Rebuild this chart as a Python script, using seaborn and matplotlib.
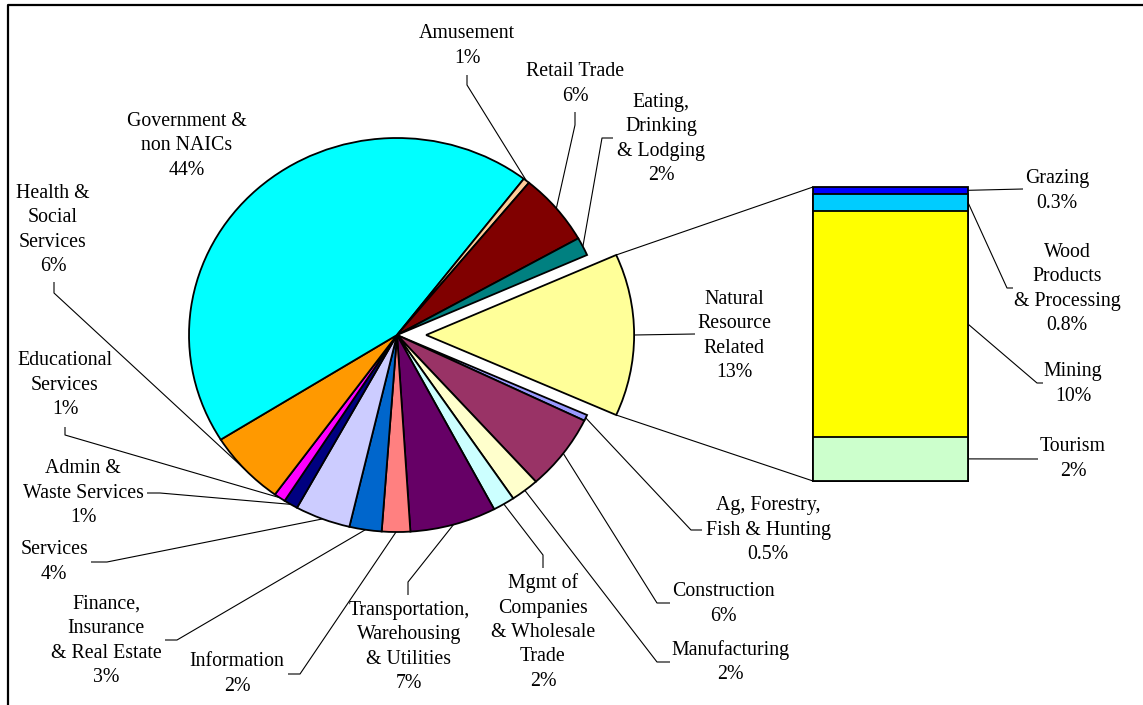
import numpy as np
import pandas as pd
import matplotlib
matplotlib.use('Agg')
import matplotlib.pyplot as plt
import seaborn as sns

# main pie, clockwise starting with the exploded "Natural Resource Related" slice
sectors = ['Natural\nResource\nRelated', 'Ag, Forestry,\nFish & Hunting', 'Construction', 'Manufacturing',
           'Mgmt of\nCompanies\n& Wholesale\nTrade', 'Transportation,\nWarehousing\n& Utilities', 'Information',
           'Finance,\nInsurance\n& Real Estate', 'Services', 'Admin &\nWaste Services', 'Educational\nServices',
           'Health &\nSocial\nServices', 'Government &\nnon NAICs', 'Amusement', 'Retail Trade',
           'Eating,\nDrinking\n& Lodging']
sector_pct = ['13%', '0.5%', '6%', '2%', '2%', '7%', '2%', '3%', '4%', '1%', '1%', '6%', '44%', '1%', '6%', '2%']
sector_share = [None, 0.5, 6.2, 2.2, 1.7, 6.7, 2.2, 2.5, 4.3, 1.1, 0.9, 6.1, 44.3, 0.5, 5.9, 1.5]
sector_colors = ['#FFFF99', '#9999FF', '#993366', '#FFFFCC', '#CCFFFF', '#660066', '#FF8080', '#0066CC',
                 '#CCCCFF', '#000080', '#FF00FF', '#FF9900', '#00FFFF', '#FFCC99', '#800000', '#008080']

# breakdown of natural resource related (bar, top to bottom)
nr_parts = ['Grazing', 'Wood\nProducts\n& Processing', 'Mining', 'Tourism']
nr_pct = ['0.3%', '0.8%', '10%', '2%']
nr_share = [0.3, 0.8, 10.2, 2.0]
nr_colors = ['#0000FF', '#00CCFF', '#FFFF00', '#CCFFCC']

sector_share[0] = sum(nr_share)

# layout (pixels, origin top-left)
W, H = 1143, 705
pie_c = (397, 335)
rx, ry = 208, 197
label_xy = [(734, 336), (768, 530), (723, 604), (730, 662), (543, 632), (409, 647), (237, 674), (106, 641),
            (54, 562), (83, 493), (65, 385), (53, 230), (187, 146), (467, 46), (575, 84), (661, 139)]
leader_pts = [[(695, 334)], [(702, 530), (691, 530)], [(670, 603), (657, 603)], [(670, 662), (657, 662)],
              [(543, 568), (543, 555)], [(408, 595), (408, 582)], [(288, 674), (300, 674)],
              [(165, 640), (177, 640)], [(91, 562), (107, 562)], [(147, 493), (160, 493)],
              [(65, 427), (65, 435)], [(54, 282), (54, 293)], None, [(467, 75), (467, 85)],
              [(575, 112), (575, 125)], [(613, 138), (602, 138)]]
bar_box = (813, 187, 968, 481)  # left, top, right, bottom
nr_label_xy = [(1057, 191), (1067, 289), (1073, 384), (1073, 459)]
nr_leader_pts = [[(1023, 189)], [(1007, 288), (1013, 288)], [(1037, 383), (1043, 383)], [(1038, 459)]]

sns.set_style('white')
plt.rcParams['font.family'] = ['Liberation Serif', 'DejaVu Serif']
plt.rcParams['text.color'] = 'black'
FS = 14.3
LS = 1.38

fig = plt.figure(figsize=(W / 100, H / 100), dpi=100)

# pie axes, stretched so the pie is slightly elliptical like the original
xr, yr = 1.5, 1.2
pw, ph = 2 * xr * rx, 2 * yr * ry
pax = fig.add_axes([(pie_c[0] - pw / 2) / W, (H - pie_c[1] - ph / 2) / H, pw / W, ph / H])
frac0 = sector_share[0] / sum(sector_share)
explode = [0.14] + [0] * (len(sectors) - 1)
wedges, _ = pax.pie(sector_share, colors=sector_colors, explode=explode, startangle=180 * frac0,
                    counterclock=False, wedgeprops=dict(edgecolor='black', linewidth=1.3))
pax.set_aspect('auto')
pax.set_xlim(-xr, xr)
pax.set_ylim(-yr, yr)
pax.axis('off')

# stacked bar for the breakdown (cumulative bars drawn back to front)
bax = fig.add_axes([bar_box[0] / W, (H - bar_box[3]) / H, (bar_box[2] - bar_box[0]) / W,
                    (bar_box[3] - bar_box[1]) / H])
bar_df = pd.DataFrame({'part': nr_parts, 'share': nr_share, 'color': nr_colors})
bar_df['top'] = bar_df['share'][::-1].cumsum()[::-1]
for _, row in bar_df.iterrows():
    sns.barplot(x=['nr'], y=[row['top']], color=row['color'], saturation=1, width=1,
                edgecolor='black', linewidth=1.3, ax=bax)
for p in bax.patches:
    p.set_clip_on(False)
bax.set_xlim(-0.5, 0.5)
bax.set_ylim(0, bar_df['share'].sum())
bax.axis('off')

# overlay in pixel coordinates for labels and lines
ax = fig.add_axes([0, 0, 1, 1])
ax.set_xlim(0, W)
ax.set_ylim(H, 0)
ax.axis('off')
ax.patch.set_alpha(0)


def to_px(src_ax, pt):
    return ax.transData.inverted().transform(src_ax.transData.transform(pt))


line_kw = dict(color='black', lw=0.8, solid_capstyle='butt')

for i, w in enumerate(wedges):
    ax.text(label_xy[i][0], label_xy[i][1], sectors[i] + '\n' + sector_pct[i], ha='center', va='center',
            multialignment='center', fontsize=FS, linespacing=LS, color='black')
    if leader_pts[i] is None:
        continue
    mid = np.deg2rad((w.theta1 + w.theta2) / 2)
    cx, cy = w.center
    end = to_px(pax, (cx + np.cos(mid), cy + np.sin(mid)))
    pts = leader_pts[i] + [tuple(end)]
    ax.plot([p[0] for p in pts], [p[1] for p in pts], **line_kw)

# lines joining the exploded slice to the bar
nw = wedges[0]
for ang, yb in [(nw.theta2, bar_df['share'].sum()), (nw.theta1, 0)]:
    a = np.deg2rad(ang)
    p0 = to_px(pax, (nw.center[0] + np.cos(a), nw.center[1] + np.sin(a)))
    p1 = to_px(bax, (-0.5, yb))
    ax.plot([p0[0], p1[0]], [p0[1], p1[1]], **line_kw)

# bar labels
for i, row in bar_df.iterrows():
    ax.text(nr_label_xy[i][0], nr_label_xy[i][1], row['part'] + '\n' + nr_pct[i], ha='center', va='center',
            multialignment='center', fontsize=FS, linespacing=LS, color='black')
    start = to_px(bax, (0.5, row['top'] - row['share'] / 2))
    pts = [tuple(start)] + nr_leader_pts[i]
    ax.plot([p[0] for p in pts], [p[1] for p in pts], **line_kw)

# chart border
ax.plot([8, 8, W + 5], [H + 5, 5, 5], color='black', lw=1.6)

fig.savefig('out.png', dpi=100)
